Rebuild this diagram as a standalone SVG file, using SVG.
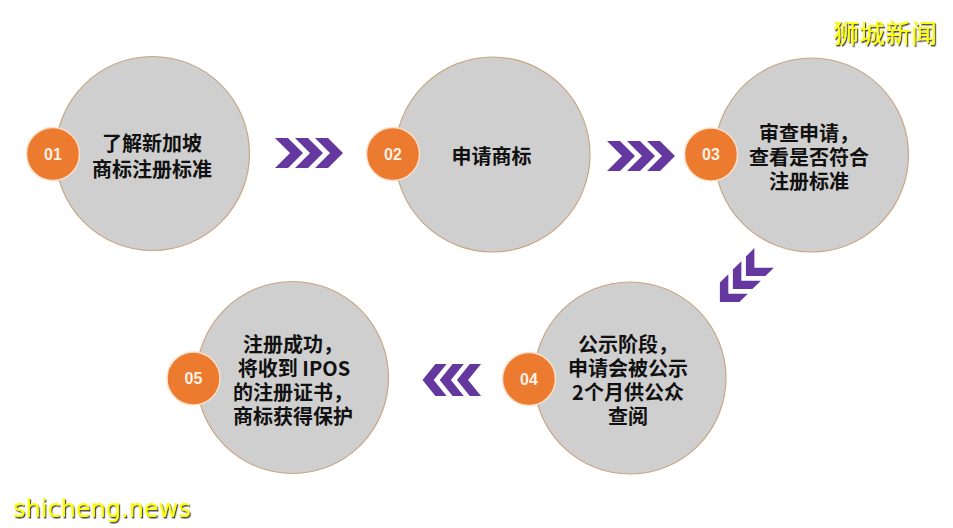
<svg xmlns="http://www.w3.org/2000/svg" width="953" height="528" viewBox="0 0 953 528">
  <defs>
    <style>
      .disc { fill: #D0CFCF; stroke: #C9A684; stroke-width: 1.2; }
      .badge { fill: #EC7A2F; stroke: #FBE0CA; stroke-width: 1.5; }
      .num { font-family: "Liberation Sans", "DejaVu Sans", sans-serif; font-weight: bold; font-size: 16px; fill: #FDF1E4; text-anchor: middle; }
      .label { font-family: "Noto Sans CJK SC", "Liberation Sans", sans-serif; font-weight: bold; font-size: 20px; fill: #111111; text-anchor: middle; }
      .chev { fill: #6538A0; }
      .wm-cn { font-family: "Noto Sans CJK SC", sans-serif; font-size: 26px; fill: #FFFF00; }
      .wm-en { font-family: "DejaVu Sans", sans-serif; font-size: 24px; fill: #FFFF00; }
    </style>
    <polygon id="chevron" points="0,-15 13,-15 28,0 13,15 0,15 15,0"/>
    <filter id="shadow" x="-10%" y="-20%" width="120%" height="150%">
      <feDropShadow dx="1.2" dy="1.5" stdDeviation="0.7" flood-color="#333333" flood-opacity="0.9"/>
    </filter>
  </defs>

  <rect width="953" height="528" fill="#FFFFFF"/>

  <g id="connectors">
    <g id="arrow-1-2" class="chev" transform="translate(275,153)">
      <use href="#chevron" x="0"/>
      <use href="#chevron" x="20"/>
      <use href="#chevron" x="40"/>
    </g>
    <g id="arrow-2-3" class="chev" transform="translate(607,156)">
      <use href="#chevron" x="0"/>
      <use href="#chevron" x="20"/>
      <use href="#chevron" x="40"/>
    </g>
    <g id="arrow-3-4" class="chev" transform="translate(742,280) rotate(135) scale(0.92) translate(-34,0)">
      <use href="#chevron" x="0"/>
      <use href="#chevron" x="20"/>
      <use href="#chevron" x="40"/>
    </g>
    <g id="arrow-4-5" class="chev" transform="translate(481,380) scale(-0.86,1.07)">
      <use href="#chevron" x="0"/>
      <use href="#chevron" x="20"/>
      <use href="#chevron" x="40"/>
    </g>
  </g>

  <g id="node-01">
    <circle class="disc" cx="152.5" cy="153.5" r="97"/>
    <circle class="badge" cx="53" cy="154" r="26.5"/>
    <text class="num" x="53" y="159.5">01</text>
    <text class="label" x="152" y="151"><tspan x="152" y="151">了解新加坡</tspan><tspan x="152" y="177">商标注册标准</tspan></text>
  </g>

  <g id="node-02">
    <circle class="disc" cx="492.5" cy="154.5" r="97.5"/>
    <circle class="badge" cx="393" cy="154" r="26.5"/>
    <text class="num" x="393" y="159.5">02</text>
    <text class="label" x="491.5" y="164">申请商标</text>
  </g>

  <g id="node-03">
    <circle class="disc" cx="811.5" cy="155" r="97"/>
    <circle class="badge" cx="711" cy="154.5" r="26.5"/>
    <text class="num" x="711" y="160">03</text>
    <text class="label" x="809" y="141"><tspan x="809" y="141">审查申请，</tspan><tspan x="809" y="165">查看是否符合</tspan><tspan x="809" y="189">注册标准</tspan></text>
  </g>

  <g id="node-04">
    <circle class="disc" cx="630" cy="378" r="96"/>
    <circle class="badge" cx="529" cy="379" r="26.5"/>
    <text class="num" x="529" y="384.5">04</text>
    <text class="label" x="628" y="352"><tspan x="628" y="352">公示阶段，</tspan><tspan x="628" y="376">申请会被公示</tspan><tspan x="628" y="400">2个月供公众</tspan><tspan x="628" y="424">查阅</tspan></text>
  </g>

  <g id="node-05">
    <circle class="disc" cx="292.5" cy="377.5" r="96"/>
    <circle class="badge" cx="193.5" cy="378.5" r="26.5"/>
    <text class="num" x="193.5" y="384">05</text>
    <text class="label" x="293" y="352"><tspan x="293" y="352">注册成功，</tspan><tspan x="294" y="376">将收到 IPOS</tspan><tspan x="293" y="400">的注册证书，</tspan><tspan x="293" y="424">商标获得保护</tspan></text>
  </g>

  <g id="watermarks" filter="url(#shadow)">
    <text class="wm-cn" x="833" y="43">狮城新闻</text>
    <text class="wm-en" x="13" y="517">shicheng.news</text>
  </g>
</svg>
